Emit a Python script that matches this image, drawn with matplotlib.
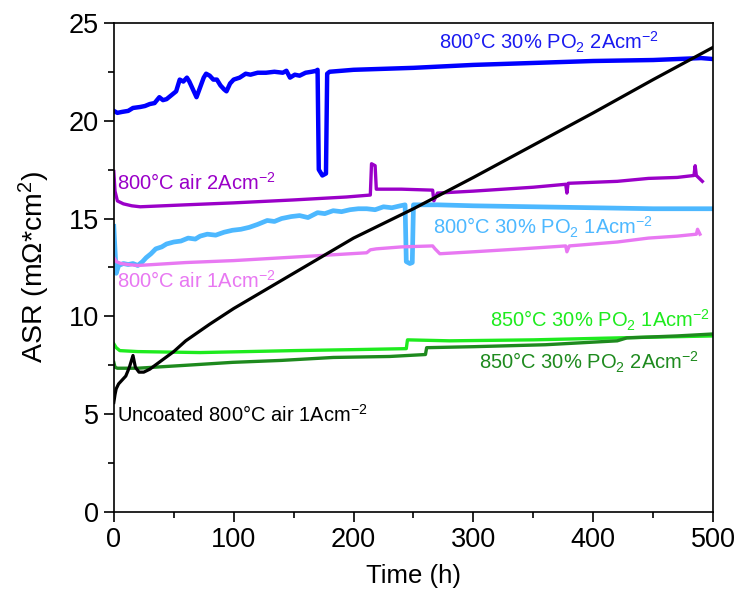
import matplotlib
matplotlib.use("Agg")
import matplotlib.pyplot as plt
from matplotlib.ticker import MultipleLocator

plt.rcParams['font.family'] = ['Liberation Sans', 'DejaVu Sans']
plt.rcParams['mathtext.fontset'] = 'custom'
plt.rcParams['mathtext.rm'] = 'Liberation Sans'
plt.rcParams['mathtext.it'] = 'Liberation Sans'

# 800C 30% PO2 2A/cm2 (blue)
t_b2 = [0, 3, 7, 12, 16, 22, 26, 30, 34, 38, 41, 44, 48, 52, 55, 58, 61, 63, 66, 69, 72,
        75, 77, 80, 83, 86, 89, 92, 94, 97, 100, 105, 110, 114, 120, 127, 134, 141, 144,
        147, 151, 155, 160, 165, 169, 170, 171, 174, 177, 178, 180, 200, 250, 300, 350,
        400, 450, 490, 500]
y_b2 = [20.5, 20.4, 20.45, 20.5, 20.65, 20.7, 20.75, 20.85, 20.9, 21.2, 21.05, 21.1, 21.3,
        21.5, 22.1, 22.0, 22.2, 22.0, 21.6, 21.2, 21.7, 22.2, 22.4, 22.3, 22.1, 22.1, 21.8,
        21.6, 21.5, 21.9, 22.1, 22.2, 22.4, 22.35, 22.45, 22.45, 22.5, 22.45, 22.55, 22.2,
        22.35, 22.3, 22.45, 22.5, 22.55, 22.6, 17.5, 17.2, 17.3, 22.4, 22.5, 22.6, 22.7,
        22.85, 22.95, 23.05, 23.1, 23.2, 23.15]

# 800C air 2A/cm2 (purple)
t_a2 = [0, 1, 3, 8, 15, 22, 60, 100, 150, 194, 214, 215, 218, 219, 240, 266, 267, 270, 300,
        350, 377, 378, 379, 420, 446, 470, 484, 485, 486, 491]
y_a2 = [17.4, 16.4, 15.9, 15.75, 15.65, 15.6, 15.7, 15.8, 15.95, 16.1, 16.2, 17.8, 17.7,
        16.5, 16.5, 16.45, 15.9, 16.3, 16.4, 16.6, 16.75, 16.3, 16.8, 16.9, 17.05, 17.1,
        17.2, 17.7, 17.2, 16.9]

# 800C 30% PO2 1A/cm2 (light blue)
t_b1 = [0, 1, 2, 4, 8, 12, 16, 20, 24, 27, 31, 35, 40, 44, 50, 56, 62, 68, 72, 78, 85, 92,
        99, 106, 113, 120, 128, 134, 140, 148, 155, 162, 170, 176, 183, 190, 197, 204, 211,
        218, 225, 232, 239, 243, 244, 247, 249, 250, 260, 270, 300, 350, 400, 450, 500]
y_b1 = [14.6, 13.4, 12.2, 12.6, 12.7, 12.65, 12.7, 12.6, 12.8, 13.0, 13.2, 13.45, 13.55,
        13.7, 13.8, 13.85, 14.0, 13.95, 14.1, 14.2, 14.15, 14.3, 14.4, 14.45, 14.55, 14.7,
        14.9, 14.85, 15.0, 15.1, 15.15, 15.05, 15.3, 15.25, 15.4, 15.35, 15.45, 15.5, 15.5,
        15.45, 15.6, 15.55, 15.65, 15.7, 12.8, 12.7, 12.75, 15.7, 15.7, 15.7, 15.65, 15.6,
        15.55, 15.5, 15.5]

# 800C air 1A/cm2 (violet)
t_a1 = [0, 2, 6, 12, 20, 60, 100, 128, 170, 211, 214, 219, 240, 266, 268, 272, 300, 340,
        377, 378, 380, 420, 446, 470, 486, 487, 489]
y_a1 = [13.0, 12.8, 12.7, 12.65, 12.6, 12.75, 12.85, 12.95, 13.1, 13.25, 13.4, 13.45, 13.55,
        13.6, 13.45, 13.2, 13.3, 13.45, 13.6, 13.3, 13.6, 13.8, 14.0, 14.1, 14.2, 14.45, 14.2]

# Uncoated 800C air 1A/cm2 (black)
t_u = [0, 1, 2, 4, 7, 10, 13, 16, 18, 21, 25, 30, 40, 50, 60, 80, 100, 150, 200, 250, 300,
       350, 400, 450, 500]
y_u = [5.6, 6.0, 6.3, 6.55, 6.75, 6.95, 7.4, 8.0, 7.4, 7.15, 7.15, 7.3, 7.75, 8.2, 8.75,
       9.6, 10.4, 12.2, 14.0, 15.5, 17.1, 18.75, 20.4, 22.1, 23.75]

# 850C 30% PO2 1A/cm2 (bright green)
t_g1 = [0, 2, 5, 20, 72, 150, 200, 244, 245, 280, 350, 420, 500]
y_g1 = [8.6, 8.4, 8.25, 8.2, 8.15, 8.25, 8.3, 8.35, 8.8, 8.75, 8.8, 8.9, 9.0]

# 850C 30% PO2 2A/cm2 (dark green)
t_g2 = [0, 1, 3, 20, 60, 99, 140, 183, 230, 260, 261, 300, 360, 420, 428, 470, 500]
y_g2 = [7.65, 7.4, 7.35, 7.35, 7.5, 7.65, 7.75, 7.9, 7.95, 8.05, 8.4, 8.45, 8.55, 8.75,
        8.9, 9.0, 9.1]

fig = plt.figure(figsize=(7.39, 6.01), dpi=100)
ax = fig.add_axes([0.154, 0.148, 0.811, 0.814])

ax.plot(t_u, y_u, color='black', lw=2.3, zorder=5)
ax.plot(t_b2, y_b2, color='#0000FF', lw=3.2)
ax.plot(t_a2, y_a2, color='#9A00C8', lw=2.4)
ax.plot(t_b1, y_b1, color='#4DB8FF', lw=3.4)
ax.plot(t_a1, y_a1, color='#E878F2', lw=2.4)
ax.plot(t_g1, y_g1, color='#1EEB1E', lw=2.4)
ax.plot(t_g2, y_g2, color='#1E8A1E', lw=2.4)

fs = 14.5
ax.text(271, 24.0, r'800°C 30% PO$_2$ 2Acm$^{-2}$', color='#1A1AF0', fontsize=fs, va='center')
ax.text(2.5, 16.8, r'800°C air 2Acm$^{-2}$', color='#9A00C8', fontsize=fs, va='center')
ax.text(266, 14.55, r'800°C 30% PO$_2$ 1Acm$^{-2}$', color='#4DB8FF', fontsize=fs, va='center')
ax.text(2.5, 11.8, r'800°C air 1Acm$^{-2}$', color='#E878F2', fontsize=fs, va='center')
ax.text(314, 9.8, r'850°C 30% PO$_2$ 1Acm$^{-2}$', color='#1EEB1E', fontsize=fs, va='center')
ax.text(305, 7.65, r'850°C 30% PO$_2$ 2Acm$^{-2}$', color='#1E8A1E', fontsize=fs, va='center')
ax.text(2.5, 4.95, r'Uncoated 800°C air 1Acm$^{-2}$', color='black', fontsize=fs, va='center')

ax.set_xlim(0, 500)
ax.set_ylim(0, 25)
ax.xaxis.set_major_locator(MultipleLocator(100))
ax.xaxis.set_minor_locator(MultipleLocator(50))
ax.yaxis.set_major_locator(MultipleLocator(5))
ax.yaxis.set_minor_locator(MultipleLocator(2.5))
ax.tick_params(which='major', direction='out', length=7, width=1.2, labelsize=19.5)
ax.tick_params(which='minor', direction='out', length=4, width=1.2)
for s in ax.spines.values():
    s.set_linewidth(1.2)

ax.set_xlabel('Time (h)', fontsize=18.5, labelpad=8)
ax.set_ylabel(r'ASR (m$\Omega$*cm$^2$)', fontsize=20.5, labelpad=12)

fig.savefig('out.png', dpi=100)
